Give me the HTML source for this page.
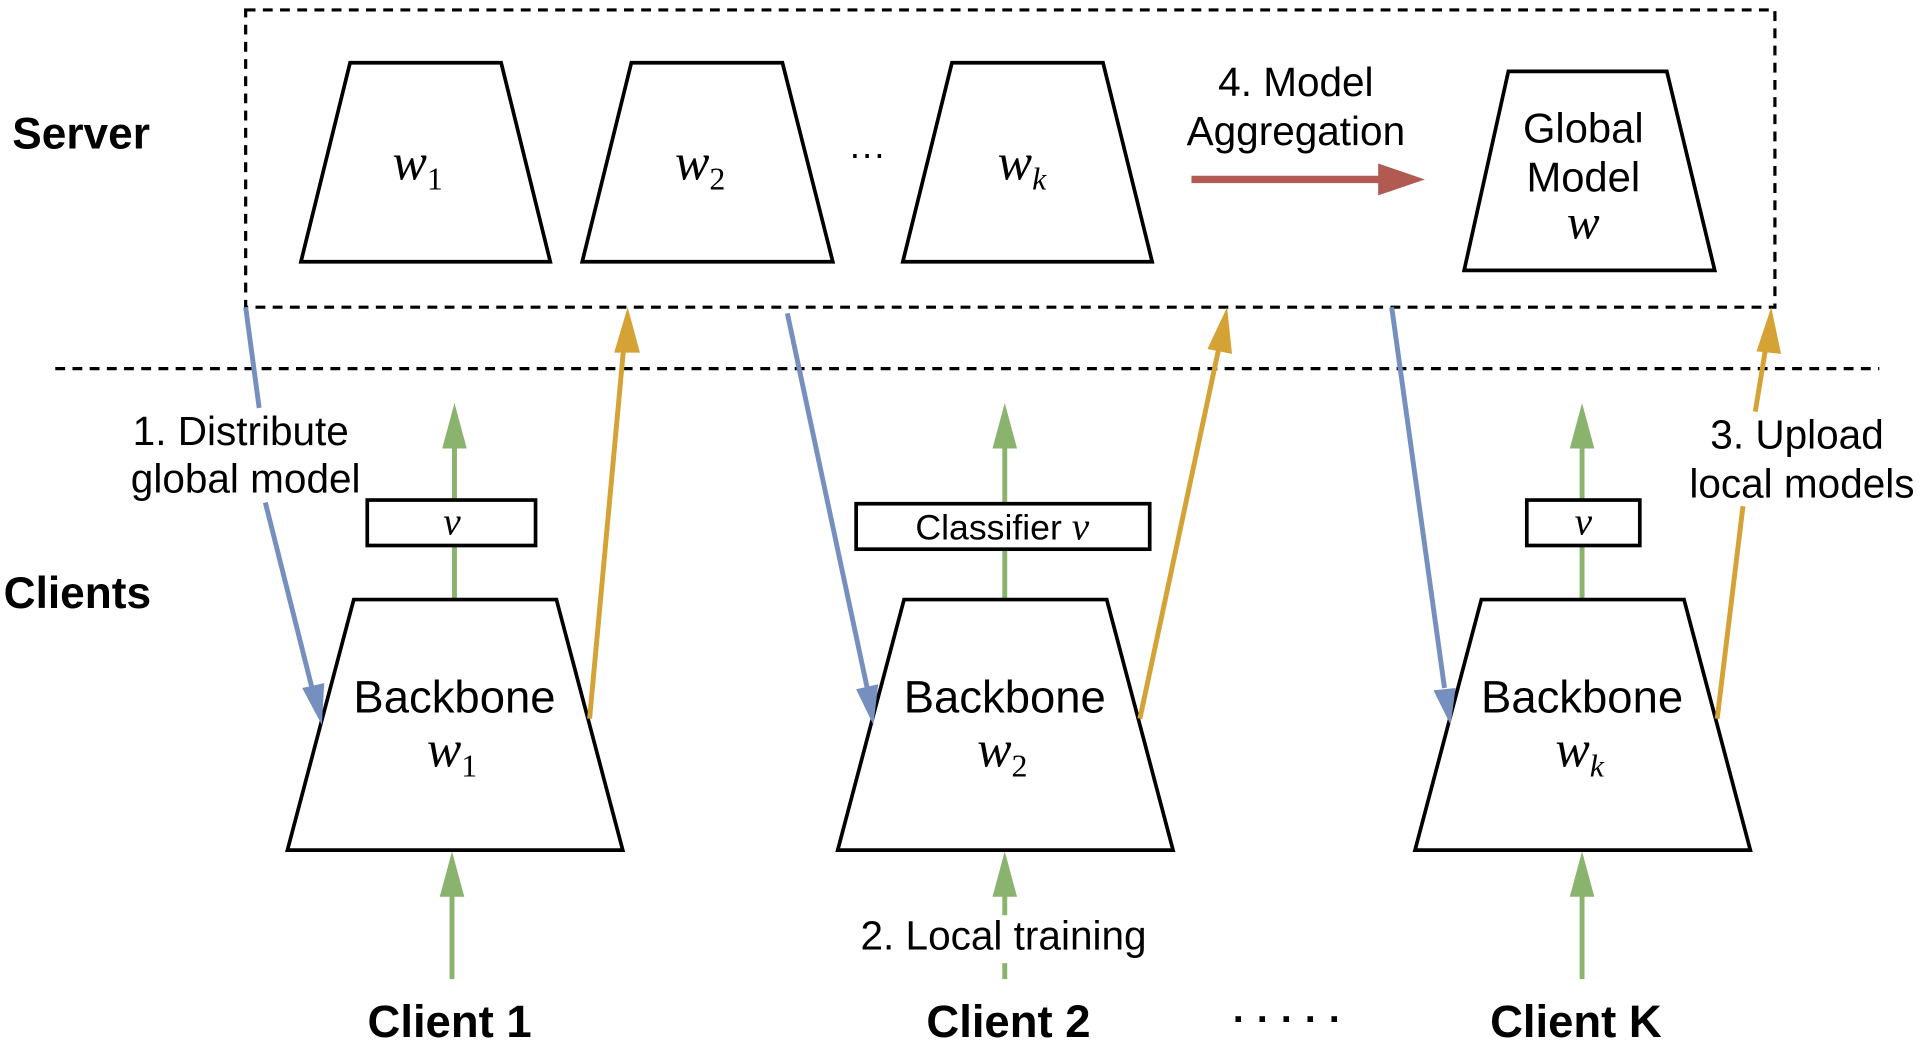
<!DOCTYPE html>
<html><head><meta charset="utf-8"><style>
html,body{margin:0;padding:0;background:#fff;}
svg{display:block;}
text{font-family:"Liberation Sans",Arial,sans-serif;fill:#000;}
.m{font-family:"Liberation Serif",serif;font-style:italic;}
</style></head><body>
<svg width="1926" height="1048" viewBox="0 0 1568 853" xmlns="http://www.w3.org/2000/svg">
<g fill="none" stroke="#000" stroke-width="2.6" stroke-dasharray="8,6">
<rect x="200" y="8" width="1245" height="242"/>
<line x1="45" y1="300" x2="1530" y2="300"/>
</g>
<g fill="#fff" stroke="#000" stroke-width="3">
<polygon points="285,51 408,51 448,213 245,213"/>
<polygon points="514,51 637,51 678,213 474,213"/>
<polygon points="775,51 898,51 938,213 735,213"/>
<polygon points="1228,58 1357,58 1396,220 1192,220"/>
</g>
<text x="340" y="146" font-size="42" class="m" text-anchor="middle">w<tspan font-size="26" font-style="normal" dy="8">1</tspan></text>
<text x="570" y="146" font-size="42" class="m" text-anchor="middle">w<tspan font-size="26" font-style="normal" dy="8">2</tspan></text>
<text x="832" y="146" font-size="42" class="m" text-anchor="middle">w<tspan font-size="26" dy="8">k</tspan></text>
<text x="706" y="135" font-size="30" text-anchor="middle">···</text>
<text x="1289" y="116" font-size="34" text-anchor="middle">Global</text>
<text x="1289" y="156" font-size="34" text-anchor="middle">Model</text>
<text x="1289" y="194" font-size="40" class="m" text-anchor="middle">w</text>
<text x="1055" y="78" font-size="33" text-anchor="middle">4. Model</text>
<text x="1055" y="118" font-size="33" text-anchor="middle">Aggregation</text>
<line x1="970" y1="146" x2="1125" y2="146" stroke="#b05a52" stroke-width="6"/>
<polygon points="1122,133 1160,146 1122,159" fill="#b05a52"/>
<text x="10" y="121" font-size="36" font-weight="bold">Server</text>
<text x="3" y="495" font-size="36" font-weight="bold">Clients</text>
<g stroke="#8ab36e" stroke-width="4">
<line x1="370" y1="488" x2="370" y2="360"/>
<line x1="818" y1="488" x2="818" y2="360"/>
<line x1="1288" y1="488" x2="1288" y2="360"/>
<line x1="368" y1="797" x2="368" y2="725"/>
<line x1="818" y1="797" x2="818" y2="784"/>
<line x1="818" y1="745" x2="818" y2="725"/>
<line x1="1288" y1="797" x2="1288" y2="725"/>
</g>
<g fill="#8ab36e">
<polygon points="370,328 380,365 360,365"/>
<polygon points="818,328 828,365 808,365"/>
<polygon points="1288,328 1298,365 1278,365"/>
<polygon points="368,693 378,730 358,730"/>
<polygon points="818,693 828,730 808,730"/>
<polygon points="1288,693 1298,730 1278,730"/>
</g>
<g fill="#fff" stroke="#000" stroke-width="3">
<polygon points="288,488 453,488 507,692 234,692"/>
<polygon points="736,488 901,488 955,692 682,692"/>
<polygon points="1206,488 1371,488 1425,692 1152,692"/>
<rect x="299" y="407" width="137" height="37"/>
<rect x="697" y="410" width="239" height="37"/>
<rect x="1243" y="407" width="92" height="37"/>
</g>
<text x="368" y="435" font-size="32" class="m" text-anchor="middle">v</text>
<text x="816" y="439" font-size="29" text-anchor="middle" fill="#333">Classifier <tspan class="m" font-size="32">v</tspan></text>
<text x="1289" y="435" font-size="32" class="m" text-anchor="middle">v</text>
<g font-size="37" text-anchor="middle">
<text x="370" y="580">Backbone</text>
<text x="818" y="580">Backbone</text>
<text x="1288" y="580">Backbone</text>
</g>
<text x="368" y="624" font-size="42" class="m" text-anchor="middle">w<tspan font-size="26" font-style="normal" dy="8">1</tspan></text>
<text x="816" y="624" font-size="42" class="m" text-anchor="middle">w<tspan font-size="26" font-style="normal" dy="8">2</tspan></text>
<text x="1286" y="624" font-size="42" class="m" text-anchor="middle">w<tspan font-size="26" dy="8">k</tspan></text>
<g stroke="#7590bf" stroke-width="4" fill="none">
<line x1="200" y1="250" x2="211" y2="332"/>
<line x1="216" y1="409" x2="254" y2="560"/>
<line x1="641" y1="255" x2="706" y2="560"/>
<line x1="1133" y1="250" x2="1176" y2="560"/>
</g>
<g fill="#7590bf">
<polygon points="262,590 246,560 264,556"/>
<polygon points="711,590 697,561 715,557"/>
<polygon points="1181,590 1167,562 1185,560"/>
</g>
<g stroke="#d4a235" stroke-width="4" fill="none">
<line x1="480" y1="585" x2="508" y2="280"/>
<line x1="928" y1="585" x2="993" y2="280"/>
<line x1="1398" y1="585" x2="1419" y2="412"/>
<line x1="1429" y1="335" x2="1438" y2="280"/>
</g>
<g fill="#d4a235">
<polygon points="511,250 521,287 500,287"/>
<polygon points="999,250 1003,288 983,284"/>
<polygon points="1442,250 1450,288 1430,286"/>
</g>
<g font-size="33" text-anchor="middle">
<text x="196" y="362">1. Distribute</text>
<text x="200" y="401">global model</text>
<text x="1463" y="365">3. Upload</text>
<text x="1467" y="405">local models</text>
<text x="817" y="773">2. Local training</text>
</g>
<g font-size="37" font-weight="bold" text-anchor="middle">
<text x="366" y="844">Client 1</text>
<text x="821" y="844">Client 2</text>
<text x="1283" y="844">Client K</text>
</g>
<text x="1048" y="840" font-size="32" font-weight="bold" text-anchor="middle">· · · · ·</text>
</svg>
</body></html>
